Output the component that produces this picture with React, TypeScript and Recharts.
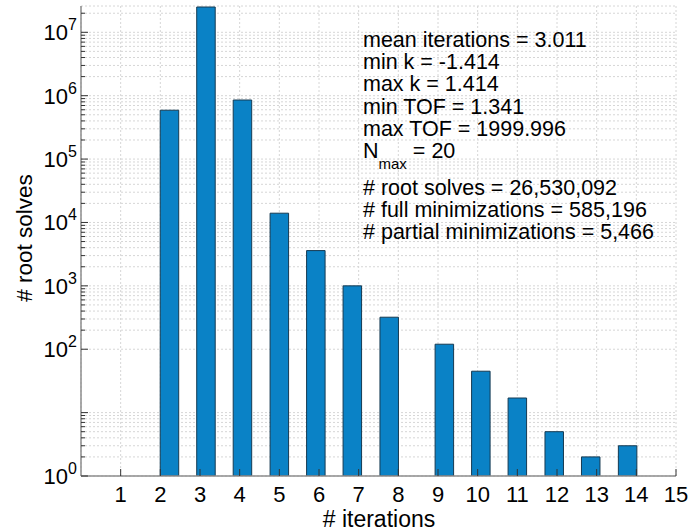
import React from 'react';
import { BarChart, Bar, XAxis, YAxis, CartesianGrid } from 'recharts';

// bin centres of the iteration histogram and how many root solves fell in each
const iterationBins = [2.23, 3.15, 4.07, 5.0, 5.92, 6.84, 7.77, 9.16, 10.08, 11.0, 11.93, 12.85, 13.78];
const rootSolveCounts = [590000, 25066000, 855000, 14000, 3600, 1000, 320, 120, 45, 17, 5, 2, 3];

const iterationTicks = [1, 2, 3, 4, 5, 6, 7, 8, 9, 10, 11, 12, 13, 14, 15];
const labelledExponents = [0, 2, 3, 4, 5, 6, 7];
const decadeTicks = [1, 10, 100, 1e3, 1e4, 1e5, 1e6, 1e7];
const minorTicks = [
  2, 3, 4, 5, 6, 7, 8, 9,
  200, 300, 400, 500, 600, 700, 800, 900,
  2e3, 3e3, 4e3, 5e3, 6e3, 7e3, 8e3, 9e3,
  2e4, 3e4, 4e4, 5e4, 6e4, 7e4, 8e4, 9e4,
  2e5, 3e5, 4e5, 5e5, 6e5, 7e5, 8e5, 9e5,
  2e6, 3e6, 4e6, 5e6, 6e6, 7e6, 8e6, 9e6,
  2e7,
];

const statLines = [
  'mean iterations = 3.011',
  'min k = -1.414',
  'max k = 1.414',
  'min TOF = 1.341',
  'max TOF = 1999.996',
];
const nMax = 20;
const countLines = [
  '# root solves = 26,530,092',
  '# full minimizations = 585,196',
  '# partial minimizations = 5,466',
];

const rows = iterationBins.map((bin, i) => ({ bin, count: rootSolveCounts[i] }));
const yTicks = [...decadeTicks, ...minorTicks].sort((a, b) => a - b);

const FONT = '"Liberation Sans", Arial, sans-serif';
const AXIS = '#8c8c8c';
const TICK = '#333';

const isDecade = (v: number) => Math.abs(Math.log10(v) - Math.round(Math.log10(v))) < 1e-9;

function LeftTick({ x, y, payload }: any) {
  const v = payload.value;
  const exp = Math.round(Math.log10(v));
  const major = isDecade(v);
  return (
    <g>
      <line x1={x} x2={x + (major ? 7 : 4)} y1={y} y2={y} stroke={TICK} strokeWidth={1} />
      {major && labelledExponents.includes(exp) && (
        <text x={x - 4} y={y + 8} textAnchor="end" fontFamily={FONT} fontSize={22} fill="#000">
          10
          <tspan dy={-10} fontSize={16}>{exp}</tspan>
        </text>
      )}
    </g>
  );
}

function RightTick({ x, y, payload }: any) {
  const major = isDecade(payload.value);
  return <line x1={x} x2={x - (major ? 7 : 4)} y1={y} y2={y} stroke={TICK} strokeWidth={1} />;
}

function BottomTick({ x, y, payload }: any) {
  return (
    <g>
      <line x1={x} x2={x} y1={y} y2={y - 7} stroke={TICK} strokeWidth={1} />
      <text x={x} y={y + 26} textAnchor="middle" fontFamily={FONT} fontSize={22} fill="#000">
        {payload.value}
      </text>
    </g>
  );
}

function TopTick({ x, y }: any) {
  return <line x1={x} x2={x} y1={y} y2={y + 7} stroke={TICK} strokeWidth={1} />;
}

export default function App() {
  return (
    <div style={{ position: 'absolute', left: 0, top: 0, width: 689, height: 532, background: '#fff' }}>
      <BarChart width={689} height={532} data={rows} margin={{ top: 6, right: 13, bottom: 0, left: 0 }}>
        <CartesianGrid xAxisId="bottom" yAxisId="left" stroke="#d6d6d6" strokeDasharray="2 2" />
        <XAxis
          xAxisId="bottom"
          dataKey="bin"
          type="number"
          domain={[0, 15]}
          ticks={iterationTicks}
          interval={0}
          height={56}
          tickSize={0}
          tickMargin={0}
          tickLine={false}
          axisLine={{ stroke: AXIS, strokeWidth: 1.5 }}
          tick={<BottomTick />}
          allowDataOverflow
        />
        <XAxis
          xAxisId="top"
          orientation="top"
          dataKey="bin"
          type="number"
          domain={[0, 15]}
          ticks={iterationTicks}
          interval={0}
          height={0}
          tickSize={0}
          tickMargin={0}
          tickLine={false}
          axisLine={{ stroke: '#555', strokeWidth: 1 }}
          tick={<TopTick />}
          allowDataOverflow
        />
        <YAxis
          yAxisId="left"
          scale="log"
          domain={[1, 26000000]}
          ticks={yTicks}
          interval={0}
          width={81}
          tickSize={0}
          tickMargin={0}
          tickLine={false}
          axisLine={{ stroke: AXIS, strokeWidth: 1.5 }}
          tick={<LeftTick />}
          allowDataOverflow
        />
        <YAxis
          yAxisId="right"
          orientation="right"
          scale="log"
          domain={[1, 26000000]}
          ticks={yTicks}
          interval={0}
          width={0}
          tickSize={0}
          tickMargin={0}
          tickLine={false}
          axisLine={{ stroke: '#555', strokeWidth: 1 }}
          tick={<RightTick />}
          allowDataOverflow
        />
        <Bar
          xAxisId="bottom"
          yAxisId="left"
          dataKey="count"
          barSize={18.5}
          fill="#0a82c6"
          stroke="#163a52"
          strokeWidth={1}
          isAnimationActive={false}
        />
      </BarChart>
      <svg
        width={689}
        height={532}
        style={{ position: 'absolute', left: 0, top: 0, pointerEvents: 'none' }}
        fontFamily={FONT}
        fontSize={21.5}
      >
        <text x={379} y={527} textAnchor="middle" fontSize={23} fill="#000">
          # iterations
        </text>
        <text x={32} y={238} textAnchor="middle" fontSize={22.5} fill="#000" transform="rotate(-90 32 238)">
          # root solves
        </text>
        {statLines.map((line, i) => (
          <text key={line} x={363} y={47 + i * 22.2} fill="#000">
            {line}
          </text>
        ))}
        <text x={363} y={158} fill="#000">
          N
          <tspan dy={11} fontSize={15}>max</tspan>
          <tspan dy={-11}>{` = ${nMax}`}</tspan>
        </text>
        {countLines.map((line, i) => (
          <text key={line} x={363} y={195 + i * 22.2} fill="#000">
            {line}
          </text>
        ))}
      </svg>
    </div>
  );
}
